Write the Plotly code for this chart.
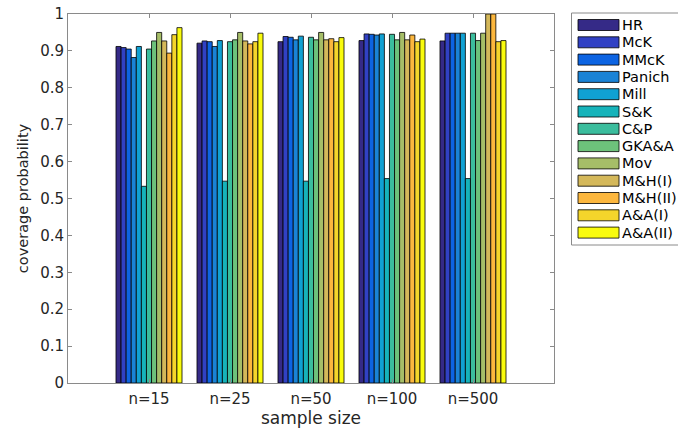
import plotly.graph_objects as go

# ---- data ----
categories = ["n=15", "n=25", "n=50", "n=100", "n=500"]
methods = ["HR", "McK", "MMcK", "Panich", "Mill", "S&K", "C&P", "GKA&A",
           "Mov", "M&H(I)", "M&H(II)", "A&A(I)", "A&A(II)"]

HR      = [0.912, 0.921, 0.925, 0.928, 0.927]
McK     = [0.909, 0.927, 0.939, 0.946, 0.948]
MMcK    = [0.905, 0.925, 0.937, 0.945, 0.948]
Panich  = [0.882, 0.912, 0.930, 0.943, 0.948]
Mill    = [0.912, 0.928, 0.940, 0.946, 0.948]
SK      = [0.533, 0.547, 0.547, 0.554, 0.554]
CP      = [0.905, 0.925, 0.937, 0.945, 0.948]
GKAA    = [0.927, 0.930, 0.930, 0.930, 0.928]
Mov     = [0.950, 0.950, 0.950, 0.950, 0.948]
MH1     = [0.927, 0.927, 0.930, 0.930, 1.000]
MH2     = [0.894, 0.919, 0.933, 0.943, 1.000]
AA1     = [0.944, 0.925, 0.925, 0.925, 0.925]
AA2     = [0.963, 0.948, 0.936, 0.932, 0.928]
series = [HR, McK, MMcK, Panich, Mill, SK, CP, GKAA, Mov, MH1, MH2, AA1, AA2]

colors = ["#352a87", "#3141c4", "#0d64e2", "#1a83d6", "#10a1d3", "#16b3ba",
          "#3bbd9d", "#6dc27b", "#a6be68", "#d4b85a", "#fcb73e", "#f4d52b",
          "#f9fb0e"]

yticks = [0, 0.1, 0.2, 0.3, 0.4, 0.5, 0.6, 0.7, 0.8, 0.9, 1]
ytick_text = ["0", "0.1", "0.2", "0.3", "0.4", "0.5", "0.6", "0.7", "0.8", "0.9", "1"]

# ---- figure ----
W, H = 678, 435
L, R, T, B = 68, 124, 14, 52
pw, ph = W - L - R, H - T - B

fig = go.Figure()
xpos = list(range(1, len(categories) + 1))
for name, vals, col in zip(methods, series, colors):
    fig.add_trace(go.Bar(
        x=xpos, y=vals, name=name, marker_color=col,
        marker_line_color="#000000", marker_line_width=0.8,
        showlegend=False,
    ))

axis_col = "#8a8a8a"
txt_col = "#262626"
font = "DejaVu Sans"

fig.update_layout(
    width=W, height=H,
    margin=dict(l=L, r=R, t=T, b=B, autoexpand=False),
    paper_bgcolor="white", plot_bgcolor="white",
    barmode="group", bargap=0.185, bargroupgap=0,
    font=dict(family=font, color=txt_col, size=14),
    xaxis=dict(
        range=[0, 6], tickmode="array", tickvals=xpos, ticktext=categories,
        ticks="inside", ticklen=4, tickcolor=axis_col, mirror="ticks",
        showline=True, linecolor=axis_col, linewidth=1, showgrid=False,
        zeroline=False, tickfont=dict(size=15, color=txt_col),
        ticklabelstandoff=2, automargin=False,
        title=dict(text="sample size", font=dict(size=17, color=txt_col), standoff=2),
    ),
    yaxis=dict(
        range=[0, 1], tickmode="array", tickvals=yticks, ticktext=ytick_text,
        ticks="inside", ticklen=4, tickcolor=axis_col, mirror="ticks",
        showline=True, linecolor=axis_col, linewidth=1, showgrid=False,
        zeroline=False, tickfont=dict(size=15, color=txt_col), automargin=False,
        title=dict(text="coverage probability", font=dict(size=14.5, color=txt_col), standoff=8),
    ),
)

# ---- custom legend (wide swatches, like MATLAB) ----
def px(xp):
    return (xp - L) / pw

def py(yp):
    return (H - B - yp) / ph

shapes = []
annotations = []
shapes.append(dict(type="rect", xref="paper", yref="paper",
                   x0=px(571.5), x1=px(700), y0=py(13), y1=py(245),
                   line=dict(color=axis_col, width=1), fillcolor="white", layer="above"))
row0, step = 25, 17.3
for i, (name, col) in enumerate(zip(methods, colors)):
    cy = row0 + i * step
    shapes.append(dict(type="rect", xref="paper", yref="paper",
                       x0=px(578), x1=px(619), y0=py(cy - 5.5), y1=py(cy + 5.5),
                       line=dict(color="#000000", width=0.8), fillcolor=col, layer="above"))
    annotations.append(dict(xref="paper", yref="paper", x=px(620), y=py(cy),
                            text=name, showarrow=False, xanchor="left", yanchor="middle",
                            font=dict(family=font, size=14.5, color="#000000")))
fig.update_layout(shapes=shapes, annotations=annotations)

fig.write_html("out.html")
